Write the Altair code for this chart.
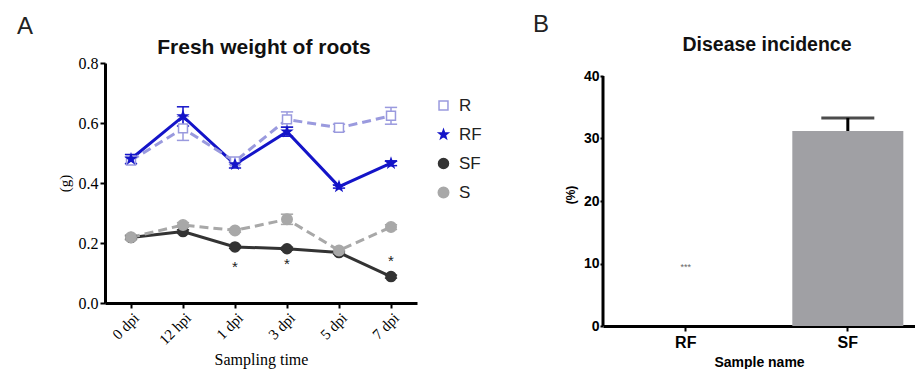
import altair as alt
import pandas as pd

# ---------------- Panel A data ----------------
categories = ["0 dpi", "12 hpi", "1 dpi", "3 dpi", "5 dpi", "7 dpi"]
series_names = ["R", "RF", "SF", "S"]
dashed_series = ["R", "S"]
R_mean = [0.475, 0.582, 0.472, 0.612, 0.584, 0.624]
R_err = [0.012, 0.040, 0.010, 0.025, 0.012, 0.028]
RF_mean = [0.480, 0.622, 0.462, 0.571, 0.388, 0.466]
RF_err = [0.015, 0.032, 0.012, 0.015, 0.005, 0.008]
SF_mean = [0.218, 0.238, 0.187, 0.181, 0.168, 0.088]
SF_err = [0.006, 0.006, 0.005, 0.005, 0.005, 0.005]
S_mean = [0.219, 0.260, 0.242, 0.279, 0.175, 0.253]
S_err = [0.008, 0.008, 0.006, 0.017, 0.008, 0.008]
star_times = ["1 dpi", "3 dpi", "7 dpi"]
star_values = [0.13, 0.141, 0.149]

line_colors = ["#9a9ade", "#1414c8", "#333333", "#a8a8a8"]
fill_colors = ["#ffffff", "#1414c8", "#333333", "#a8a8a8"]
STAR = "M0,-1L0.235,-0.324L0.951,-0.309L0.38,0.124L0.588,0.809L0,0.4L-0.588,0.809L-0.38,0.124L-0.951,-0.309L-0.235,-0.324Z"

# ---------------- Panel B data ----------------
samples = ["RF", "SF"]
incidence = [0.0, 31.2]
incidence_err = [0.0, 2.1]
sig_label = ["***"]
sig_value = [9.4]
yB_ticks = [0, 10, 20, 30, 40]

rows = []
for name, m, e in [("R", R_mean, R_err), ("RF", RF_mean, RF_err),
                   ("SF", SF_mean, SF_err), ("S", S_mean, S_err)]:
    for t, v, er in zip(categories, m, e):
        rows.append({"series": name, "kind": name, "dashed": name in dashed_series,
                     "time": t, "value": v, "lo": v - er, "hi": v + er})
dfA = pd.DataFrame(rows)

SERIF = "Liberation Serif"
SANS = "Liberation Sans"

xA = alt.X("time:N", sort=categories,
           scale=alt.Scale(type="point", padding=0.5),
           axis=alt.Axis(labelAngle=-45, labelFont=SERIF, labelFontSize=15,
                         title="Sampling time", titleFont=SERIF, titleFontSize=16,
                         titleFontWeight="normal", titlePadding=4))
yA = alt.Y("value:Q", scale=alt.Scale(domain=[0, 0.8]),
           axis=alt.Axis(values=[0, 0.2, 0.4, 0.6, 0.8], format=".1f",
                         labelFont=SERIF, labelFontSize=16, labelPadding=2,
                         title="(g)", titleFont=SERIF, titleFontSize=15,
                         titleFontWeight="normal", titlePadding=6))

stroke_scale = alt.Scale(domain=series_names, range=line_colors)
fill_scale = alt.Scale(domain=series_names, range=fill_colors)
shape_scale = alt.Scale(domain=series_names, range=["square", STAR, "circle", "circle"])
size_scale = alt.Scale(domain=series_names, range=[80, 110, 130, 80])

legend = alt.Legend(title=None, orient="none", legendX=330, legendY=34,
                    labelFont=SANS, labelFontSize=17, labelColor="#222222",
                    symbolSize=70, symbolStrokeWidth=1.5,
                    rowPadding=11, labelOffset=7, padding=0)
stroke_enc = alt.Stroke("series:N", scale=stroke_scale, legend=legend)

baseA = alt.Chart(dfA)
lines_solid = baseA.transform_filter("!datum.dashed").mark_line(strokeWidth=3).encode(
    x=xA, y=yA, stroke=stroke_enc,
)
lines_dashed = baseA.transform_filter("datum.dashed").mark_line(
    strokeWidth=3, strokeDash=[9, 5]).encode(
    x=xA, y=yA, stroke=stroke_enc,
)
err_rule = baseA.mark_rule(strokeWidth=1.5).encode(
    x=xA, y=alt.Y("lo:Q"), y2="hi:Q", stroke=stroke_enc,
)
err_lo = baseA.mark_point(shape="stroke", size=150, strokeWidth=1.5, opacity=1).encode(
    x=xA, y=alt.Y("lo:Q"), stroke=stroke_enc,
)
err_hi = baseA.mark_point(shape="stroke", size=150, strokeWidth=1.5, opacity=1).encode(
    x=xA, y=alt.Y("hi:Q"), stroke=stroke_enc,
)
points = baseA.mark_point(opacity=1, strokeWidth=1.5).encode(
    x=xA, y=yA,
    stroke=stroke_enc,
    fill=alt.Fill("series:N", scale=fill_scale, legend=legend),
    shape=alt.Shape("series:N", scale=shape_scale, legend=legend),
    size=alt.Size("kind:N", scale=size_scale, legend=None),
)
stars = alt.Chart(pd.DataFrame({"time": star_times, "value": star_values})).mark_text(
    text="*", fontSize=15, font=SANS, color="#222222", baseline="middle", dy=3
).encode(x=xA, y=yA)
letterA = alt.Chart(pd.DataFrame({"t": ["A"]})).mark_text(
    align="left", baseline="alphabetic", fontSize=24, font=SANS, color="#222222"
).encode(x=alt.value(-88), y=alt.value(-29), text="t:N")
titleA = alt.Chart(pd.DataFrame({"t": ["Fresh weight of roots"]})).mark_text(
    align="center", baseline="alphabetic", fontSize=21, fontWeight="bold",
    font=SANS, color="#111111"
).encode(x=alt.value(159), y=alt.value(-9), text="t:N")

panelA = alt.layer(lines_solid, lines_dashed, err_rule, err_lo, err_hi, points,
                   stars, letterA, titleA).properties(width=312, height=240)

# ---------------- Panel B ----------------
# plot area shares its top with panel A; the axis line is drawn only up to 40
B_TOP = 40 * 263 / 250
dfB = pd.DataFrame({"sample": samples, "value": incidence,
                    "hi": [v + e for v, e in zip(incidence, incidence_err)],
                    "err": incidence_err})
xB = alt.X("sample:N", sort=samples,
           scale=alt.Scale(paddingInner=0.315, paddingOuter=0.12, align=0.7),
           axis=alt.Axis(labelAngle=0, labelFont=SANS, labelFontSize=16,
                         labelFontWeight="bold", labelPadding=3,
                         title="Sample name", titleFont=SANS, titleFontSize=14,
                         titleFontWeight="bold", titlePadding=5))
yB = alt.Y("value:Q", scale=alt.Scale(domain=[0, B_TOP], nice=False),
           axis=alt.Axis(values=yB_ticks, labelFont=SANS, domain=False,
                         labelFontSize=14, labelFontWeight="bold", labelPadding=1,
                         tickSize=3,
                         title="(%)", titleFont=SANS, titleFontSize=12,
                         titleFontWeight="bold", titlePadding=6))
baseB = alt.Chart(dfB)
bars = baseB.mark_bar(color="#a0a0a4").encode(x=xB, y=yB)
errB_rule = baseB.transform_filter("datum.err > 0").mark_rule(
    strokeWidth=3, color="black").encode(x=xB, y=alt.Y("value:Q"), y2="hi:Q")
errB_cap = baseB.transform_filter("datum.err > 0").mark_tick(
    size=53, thickness=3, color="black").encode(x=xB, y=alt.Y("hi:Q"))
sig = alt.Chart(pd.DataFrame({"sample": ["RF"], "value": sig_value, "t": sig_label})).mark_text(
    fontSize=9, font=SANS, color="#666666", baseline="middle"
).encode(x=xB, y=yB, text="t:N")
axis_line = alt.Chart(pd.DataFrame({"lo": [yB_ticks[0]], "hi": [yB_ticks[-1]]})).mark_rule(
    strokeWidth=3, color="black"
).encode(x=alt.value(0), y=alt.Y("lo:Q"), y2="hi:Q")
letterB = alt.Chart(pd.DataFrame({"t": ["B"]})).mark_text(
    align="left", baseline="alphabetic", fontSize=24, font=SANS, color="#222222"
).encode(x=alt.value(-70), y=alt.value(-31), text="t:N")
titleB = alt.Chart(pd.DataFrame({"t": ["Disease incidence"]})).mark_text(
    align="center", baseline="alphabetic", fontSize=19.5, fontWeight="bold",
    font=SANS, color="#111111"
).encode(x=alt.value(164), y=alt.value(-12), text="t:N")

panelB = alt.layer(bars, errB_rule, errB_cap, sig, axis_line, letterB, titleB).properties(
    width=312, height=263,
)

chart = alt.hconcat(panelA, panelB, spacing=116).properties(
    padding={"left": 9, "top": 5, "right": 0, "bottom": 0}
).configure_view(stroke=None).configure_axis(
    domainWidth=3, domainColor="black", tickColor="black", tickWidth=2,
    tickSize=5, grid=False, labelColor="black", titleColor="black"
)

chart.save("out.html", embed_options={"renderer": "svg", "actions": False})
